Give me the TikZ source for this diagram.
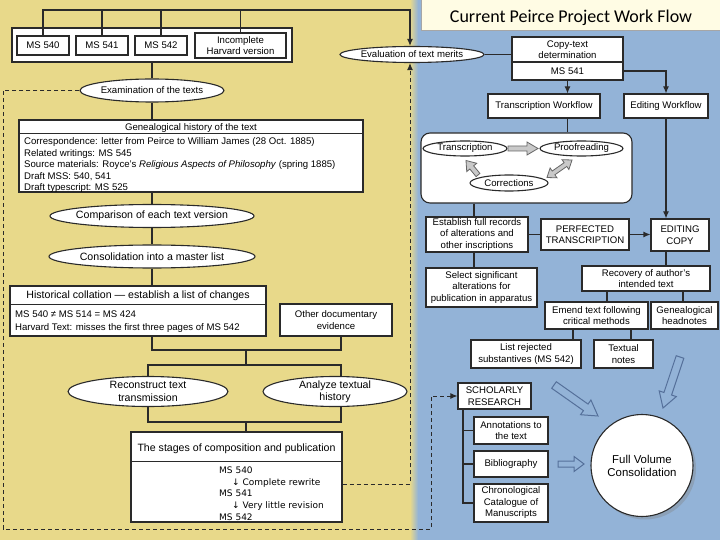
\documentclass[tikz,border=0pt]{standalone}
\usepackage{fontspec}
\setmainfont{Liberation Sans}
\newfontfamily\titlefont{Carlito}
\newfontfamily\lucfont{DejaVu Sans}
\usetikzlibrary{arrows.meta,shapes.geometric,calc,shadows}
\definecolor{yel}{HTML}{E8D98A}
\definecolor{blu}{HTML}{93B3D7}
\definecolor{ttl}{HTML}{FFFCE4}
\definecolor{ln}{HTML}{2A2A2A}
\definecolor{gar}{HTML}{C9C9C9}
\definecolor{barr}{HTML}{55709A}
\newcommand\blkarrow[8]{%
  \pgfmathsetmacro\bdx{#4-#2}\pgfmathsetmacro\bdy{#5-#3}%
  \pgfmathsetmacro\blen{veclen(\bdx,\bdy)}%
  \pgfmathsetmacro\bang{atan2(-(\bdy),\bdx)}%
  \pgfmathsetmacro\bbase{\blen-#8}%
  \begin{scope}[shift={(#2,#3)},rotate=\bang]
    \draw[#1] (0,-#6) -- (\bbase,-#6) -- (\bbase,-#7) -- (\blen,0) -- (\bbase,#7) -- (\bbase,#6) -- (0,#6) -- cycle;
  \end{scope}}
\newcommand\dblkarrow[8]{%
  \pgfmathsetmacro\bdx{#4-#2}\pgfmathsetmacro\bdy{#5-#3}%
  \pgfmathsetmacro\blen{veclen(\bdx,\bdy)}%
  \pgfmathsetmacro\bang{atan2(-(\bdy),\bdx)}%
  \pgfmathsetmacro\bbase{\blen-#8}%
  \begin{scope}[shift={(#2,#3)},rotate=\bang]
    \draw[#1] (0,0) -- (#8,#7) -- (#8,#6) -- (\bbase,#6) -- (\bbase,#7) -- (\blen,0) -- (\bbase,-#7) -- (\bbase,-#6) -- (#8,-#6) -- (#8,-#7) -- cycle;
  \end{scope}}
\tikzset{
  sm/.style={font=\fontsize{9.6}{11.5}\selectfont},
  lg/.style={font=\fontsize{10.6}{12.2}\selectfont},
  box/.style={draw=ln, fill=white, line width=1.1pt, inner sep=0pt, align=center, sm},
  ell/.style={ellipse, draw=ln, fill=white, line width=1.1pt, inner sep=-40pt, align=center, sm},
  conn/.style={draw=ln, line width=1.1pt},
  arr/.style={conn, -{Latex[length=7pt,width=6pt]}},
  dline/.style={draw=ln, line width=1pt, dash pattern=on 4pt off 3pt},
  txt/.style={inner sep=0pt, sm},
  grayarr/.style={fill=gar, draw=black!60, line width=0.8pt, line join=miter},
  bluearr/.style={fill=blu, draw=barr, line width=1pt, line join=miter},
}
\begin{document}
\begin{tikzpicture}[x=1pt,y=-1pt]
\useasboundingbox (0,0) rectangle (720,540);
% backgrounds
\fill[yel] (0,0) rectangle (412,540);
\fill[blu] (416,0) rectangle (720,540);
\shade[left color=yel, right color=blu] (410,0) rectangle (418,540);
% title
\draw[draw=black!35, fill=ttl, line width=0.8pt] (421,-2) rectangle (722,30);
\node[inner sep=0pt, anchor=base, font=\titlefont\fontsize{18}{20}\selectfont] (title) at (571,23) {Current Peirce Project Work Flow};

% ---------- left panel ----------
\node[box, minimum width=280pt, minimum height=34pt] (grp) at (152,45) {};
\node[box, minimum width=52pt, minimum height=19pt] (m540) at (43,45.5) {MS 540};
\node[box, minimum width=52pt, minimum height=19pt] (m541) at (102,45.5) {MS 541};
\node[box, minimum width=52pt, minimum height=19pt] (m542) at (161,45.5) {MS 542};
\node[box, minimum width=91pt, minimum height=25pt] (harv) at (240.5,45.5) {Incomplete\\Harvard version};

\node[ell, minimum width=144pt, minimum height=16pt] (eval) at (412,54.5) {Evaluation of text merits};
\coordinate (topc) at (410,10);
\draw[arr] (m540.north) |- (topc) -- (topc |- eval.north);
\draw[conn] (m541.north) -- (m541.north |- topc);
\draw[conn] (m542.north) -- (m542.north |- topc);
\draw[conn] (harv.north) -- (harv.north |- topc);

\node[ell, minimum width=144pt, minimum height=23pt] (exam) at (152,90.5) {Examination of the texts};
\draw[conn] (grp.south) -- (exam.north);

\node[box, minimum width=344pt, minimum height=72pt] (gen) at (191,156) {};
\draw[conn] ([yshift=-14pt]gen.north west) -- ([yshift=-14pt]gen.north east);
\node[txt, anchor=base] (genh) at (191,130.5) {Genealogical history of the text};
\node[txt, anchor=base west] (gl1) at (24,145) {Correspondence: letter from Peirce to William James (28 Oct. 1885)};
\node[txt, anchor=base west] (gl2) at (24,156.5) {Related writings: MS 545};
\node[txt, anchor=base west] (gl3) at (24,168) {Source materials: Royce’s \textit{Religious Aspects of Philosophy} (spring 1885)};
\node[txt, anchor=base west] (gl4) at (24,179.5) {Draft MSS: 540, 541};
\node[txt, anchor=base west] (gl5) at (24,191) {Draft typescript: MS 525};
\draw[conn] (exam.south) -- (exam.south |- gen.north);

\node[ell, lg, minimum width=204pt, minimum height=23pt] (comp) at (152,216) {Comparison of each text version};
\draw[conn] (exam.south |- gen.south) -- (comp.north);
\node[ell, lg, minimum width=206pt, minimum height=23pt] (cons) at (152,256.5) {Consolidation into a master list};
\draw[conn] (comp.south) -- (cons.north);

\node[box, minimum width=256pt, minimum height=50pt] (coll) at (138,311) {};
\draw[conn] ([yshift=-19pt]coll.north west) -- ([yshift=-19pt]coll.north east);
\node[txt, lg, anchor=base] (collh) at (138,298.5) {Historical collation — establish a list of changes};
\node[txt, anchor=base west] (cl1) at (15,317.5) {MS 540 ≠ MS 514 = MS 424};
\node[txt, anchor=base west] (cl2) at (15,330) {Harvard Text: misses the first three pages of MS 542};
\draw[conn] (cons.south) -- (cons.south |- coll.north);

\node[box, minimum width=112pt, minimum height=32pt] (other) at (336,320) {Other documentary\\evidence};

\coordinate (j1) at (246,350);
\coordinate (j2) at (246,365);
\coordinate (j3) at (246,422);
\draw[conn] (cons.south |- coll.south) |- (j1) -| ([xshift=5pt]other.south);
\draw[conn] (j1) -- (j2);

\node[ell, lg, minimum width=160pt, minimum height=30pt] (rec) at (148,391.5) {Reconstruct text\\transmission};
\node[ell, lg, minimum width=144pt, minimum height=30pt] (anal) at (335,391.5) {Analyze textual\\history};
\draw[conn] (rec.north) |- (j2) -| ([xshift=6pt]anal.north);
\draw[conn] (rec.south) |- (j3) -| ([xshift=6pt]anal.south);

\node[box, minimum width=211pt, minimum height=90pt] (stg) at (236.5,477) {};
\draw[conn] ([yshift=-30pt]stg.north west) -- ([yshift=-30pt]stg.north east);
\draw[conn] (j3) -- (j3 |- stg.north);
\node[txt, lg, anchor=base] (stgh) at (236.5,451) {The stages of composition and publication};
\begin{scope}[every node/.style={inner sep=0pt, anchor=base west, font=\lucfont\fontsize{9}{11}\selectfont}]
\node (s1) at (219,473) {MS 540};
\node (s2) at (232,485) {↓ Complete rewrite};
\node (s3) at (219,496.5) {MS 541};
\node (s4) at (232,508) {↓ Very little revision};
\node (s5) at (219,520) {MS 542};
\end{scope}

% ---------- right panel ----------
\node[box, minimum width=111pt, minimum height=25pt] (ct) at (567.5,49.5) {Copy-text\\determination};
\node[box, minimum width=111pt, minimum height=18pt] (ms) at (567.5,71) {MS 541};
\draw[conn] (eval.east) -- (eval.east -| ct.west);

\node[box, minimum width=112pt, minimum height=24pt] (trw) at (544,106) {Transcription Workflow};
\node[box, minimum width=84pt, minimum height=24pt] (edw) at (666,106) {Editing Workflow};
\draw[arr] (ms.south) -- (ms.south |- trw.north);
\draw[arr] (ms.east) -| (edw.north);

\node[draw=ln, fill=white, rounded corners=9pt, line width=1.1pt, minimum width=211pt, minimum height=70pt, inner sep=0pt] (cyc) at (526.5,168) {};
\draw[conn] (ms.south |- trw.south) -- (ms.south |- cyc.north);
\node[ell, minimum width=84pt, minimum height=15pt] (tr) at (465,148.5) {Transcription};
\node[ell, minimum width=83pt, minimum height=15pt] (pr) at (581.5,148.5) {Proofreading};
\node[ell, minimum width=78pt, minimum height=16pt] (co) at (509,183) {Corrections};
\blkarrow{grayarr}{508}{148.5}{538}{148.5}{2.5}{6.5}{11}
\dblkarrow{grayarr}{547}{177.5}{572}{160}{2.3}{6}{8}
\blkarrow{grayarr}{478}{175}{466}{160.5}{2.5}{6.5}{9}

\coordinate (c474) at (474,0);
\node[box, minimum width=102pt, minimum height=35pt] (est) at (477,234.5) {Establish full records\\of alterations and\\other inscriptions};
\draw[conn] (cyc.south -| c474) -- (est.north -| c474);
\node[box, minimum width=111pt, minimum height=39pt] (sel) at (481.5,287.5) {Select significant\\alterations for\\publication in apparatus};
\draw[conn] (est.south -| c474) -- (sel.north -| c474);
\node[box, minimum width=88pt, minimum height=31pt] (perf) at (585,234.5) {PERFECTED\\TRANSCRIPTION};
\draw[conn] (est.east) -- (perf.west);
\node[box, minimum width=58pt, minimum height=32pt] (edc) at (680,235) {EDITING\\COPY};
\draw[arr] (perf.east) -- (perf.east -| edc.west);
\draw[arr] (edw.south) -- (edw.south |- edc.north);

\node[box, minimum width=128pt, minimum height=25pt] (rec2) at (646,278.5) {Recovery of author’s\\intended text};
\draw[conn] (edw.south |- edc.south) -- (edw.south |- rec2.north);
\coordinate (c607) at (607,0);
\coordinate (c683) at (683,0);
\node[box, minimum width=103pt, minimum height=27pt] (em) at (596.5,315.5) {Emend text following\\critical methods};
\node[box, minimum width=67pt, minimum height=27pt] (gh) at (684.5,315.5) {Genealogical\\headnotes};
\draw[conn] (rec2.south -| c607) -- (em.north -| c607);
\draw[conn] (rec2.south -| c683) -- (gh.north -| c683);
\coordinate (c573) at (573,0);
\coordinate (c631) at (631,0);
\node[box, minimum width=110pt, minimum height=28pt] (lr) at (526,354) {List rejected\\substantives (MS 542)};
\node[box, minimum width=59pt, minimum height=28pt] (tn) at (623.5,354) {Textual\\notes};
\draw[conn] (em.south -| c573) -- (lr.north -| c573);
\draw[conn] (em.south -| c631) -- (tn.north -| c631);

\node[box, minimum width=73pt, minimum height=26pt] (sch) at (494.5,396) {SCHOLARLY\\RESEARCH};
\node[box, minimum width=74pt, minimum height=27pt] (ann) at (511,430.5) {Annotations to\\the text};
\node[box, minimum width=74pt, minimum height=26pt] (bib) at (511,464) {Bibliography};
\node[box, minimum width=74pt, minimum height=38pt] (chr) at (511,503) {Chronological\\Catalogue of\\Manuscripts};
\coordinate (c463) at (463,0);
\draw[conn] (sch.south -| c463) |- (chr.west);
\draw[conn] (ann.west -| c463) -- (ann.west);
\draw[conn] (bib.west -| c463) -- (bib.west);

\node[circle, draw=ln, fill=white, line width=1.1pt, minimum size=102pt, inner sep=0pt, align=center,
  font=\fontsize{11.4}{13}\selectfont,
  drop shadow={shadow xshift=3pt, shadow yshift=-3pt, opacity=0.35}] (fv) at (642,465.5) {Full Volume\\Consolidation};

\blkarrow{bluearr}{554}{385}{598}{416}{4}{9}{15}
\blkarrow{bluearr}{680}{357}{663}{408}{4}{9}{15}
\blkarrow{bluearr}{558}{464}{584}{464}{3}{7.5}{10}

% ---------- dashed feedback lines ----------
\coordinate (dl) at (3,529);
\coordinate (dr) at (431,529);
\coordinate (dx) at (410,484);
\draw[dline, -{Latex[length=7pt,width=6pt]}] (exam.west) -| (dl) -- (dr) |- (sch.west);
\draw[dline, -{Latex[length=7pt,width=6pt]}] ([yshift=-7pt]stg.east) -- (dx) -- (dx |- eval.south);
\end{tikzpicture}
\end{document}
